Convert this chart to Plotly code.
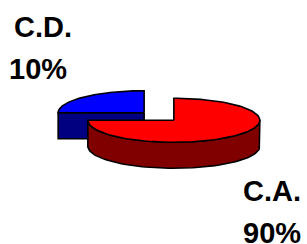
import numpy as np
import plotly.graph_objects as go

# Data
categories = ["C.A.", "C.D."]
shares = [75, 25]              # angular share of each slice as drawn
pct_labels = ["90%", "10%"]    # printed percentages
top_colors = ["#FF0000", "#0000FF"]
side_colors = ["#800000", "#000080"]

# Layout (pixel space)
W, H = 307, 244
cx0, cy0 = 159, 116.5
rx, ry, depth = 86, 22, 26
pull = 21

def pt(cx, cy, t):
    return cx + rx * np.cos(t), cy - ry * np.sin(t)

fig = go.Figure()
total = sum(shares)
start = np.pi / 2
slices = []
for i, v in enumerate(shares):
    span = 2 * np.pi * v / total
    a0, a1 = start, start - span
    mid = (a0 + a1) / 2
    cx = cx0 + pull * np.cos(mid)
    cy = cy0 - pull * np.sin(mid) * ry / rx
    slices.append((i, a0, a1, cx, cy))
    start = a1

def add_poly(xs, ys, color):
    fig.add_trace(go.Scatter(x=list(xs) + [xs[0]], y=list(ys) + [ys[0]], mode="lines",
                             fill="toself", fillcolor=color,
                             line=dict(color="black", width=1.6),
                             hoverinfo="skip", showlegend=False))

# draw back slice (blue) first, then front slice (red)
for i, a0, a1, cx, cy in sorted(slices, key=lambda s: s[4]):
    # radial cut faces that face the viewer
    for a, sgn in ((a0, 1), (a1, -1)):
        ny = np.sin(a + sgn * np.pi / 2)
        if ny < -1e-6:
            ex, ey = pt(cx, cy, a)
            add_poly([cx, ex, ex, cx], [cy, ey, ey + depth, cy + depth], side_colors[i])
    # curved outer wall (front half only)
    lo, hi = min(a0, a1), max(a0, a1)
    for k in range(-2, 3):
        s0, s1 = max(lo, -np.pi + 2 * np.pi * k), min(hi, 2 * np.pi * k)
        if s1 > s0 + 1e-6:
            t = np.linspace(s0, s1, 80)
            xs, ys = pt(cx, cy, t)
            add_poly(np.concatenate([xs, xs[::-1]]), np.concatenate([ys, ys[::-1] + depth]), side_colors[i])
    # top face
    t = np.linspace(a0, a1, 120)
    xs, ys = pt(cx, cy, t)
    add_poly(np.concatenate([[cx], xs]), np.concatenate([[cy], ys]), top_colors[i])

font = dict(family="Liberation Sans, Arial", size=29, color="black")
label_pos = {"C.D.": ((13, 27), (8, 69)), "C.A.": ((242, 191), (242, 233))}
for name, pct in zip(categories, pct_labels):
    (x1, y1), (x2, y2) = label_pos[name]
    fig.add_annotation(x=x1, y=y1, text="<b>%s</b>" % name, showarrow=False, font=font,
                       xanchor="left", borderpad=0)
    fig.add_annotation(x=x2, y=y2, text="<b>%s</b>" % pct, showarrow=False, font=font,
                       xanchor="left", borderpad=0)

fig.update_layout(width=W, height=H, margin=dict(l=0, r=0, t=0, b=0),
                  paper_bgcolor="white", plot_bgcolor="white",
                  xaxis=dict(range=[0, W], visible=False, fixedrange=True),
                  yaxis=dict(range=[H, 0], visible=False, fixedrange=True))
fig.write_html("out.html", config={"displayModeBar": False},
               post_script="document.body.style.margin='0';document.body.style.overflow='hidden';")
